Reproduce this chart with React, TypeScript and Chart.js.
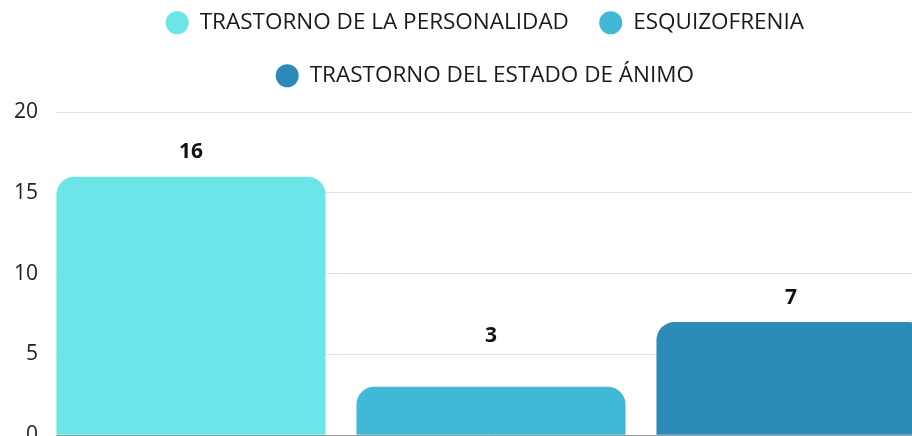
import React, { useEffect, useRef } from "react";
import { Chart, registerables } from "chart.js";

Chart.register(...registerables);

const categories = [""];
const seriesNames = [
  "TRASTORNO DE LA PERSONALIDAD",
  "ESQUIZOFRENIA",
  "TRASTORNO DEL ESTADO DE ÁNIMO",
];
const seriesValues = [16, 3, 7];
const seriesColors = ["#6CE5E8", "#41B8D5", "#2D8BBA"];
const labelOffsets = [25, 51, 24];
const yTicks = [0, 5, 10, 15, 20];

const FONT = "'Open Sans', 'Noto Sans', sans-serif";

const valueLabels = {
  id: "valueLabels",
  afterDatasetsDraw(chart: any) {
    const ctx = chart.ctx;
    ctx.save();
    ctx.font = `bold 21px ${FONT}`;
    ctx.fillStyle = "#111111";
    ctx.textAlign = "center";
    ctx.textBaseline = "middle";
    chart.data.datasets.forEach((ds: any, i: number) => {
      const meta = chart.getDatasetMeta(i);
      const el = meta.data[0];
      if (!el) return;
      ctx.fillText(String(ds.data[0]), el.x, el.y - (ds.labelOffset || 25));
    });
    ctx.restore();
  },
};

export default function App() {
  const ref = useRef<HTMLCanvasElement>(null);
  useEffect(() => {
    if (!ref.current) return;
    const chart = new Chart(ref.current, {
      type: "bar",
      data: {
        labels: categories,
        datasets: seriesNames.map((name, i) => ({
          label: name,
          data: [seriesValues[i]],
          backgroundColor: seriesColors[i],
          borderWidth: 0,
          borderRadius: 18,
          borderSkipped: "start",
          categoryPercentage: 1.0345,
          barPercentage: 0.897,
          labelOffset: labelOffsets[i],
        })) as any,
      },
      options: {
        animation: false,
        responsive: false,
        devicePixelRatio: 1,
        layout: { padding: 0 },
        plugins: {
          tooltip: { enabled: false },
          legend: {
            position: "top",
            align: "center",
            labels: {
              usePointStyle: true,
              pointStyle: "circle",
              boxHeight: 16.3,
              padding: 30.5,
              color: "#1a1a1a",
              font: { family: FONT, size: 22.5 },
            },
          },
          title: {
            display: true,
            text: "",
            position: "top",
            weight: 500,
            padding: 0,
            font: { size: 15, lineHeight: 1 },
          },
        },
        scales: {
          x: {
            grid: { display: false, drawTicks: false },
            border: { display: true, color: "#9a9a9a", width: 1 },
            ticks: { display: false },
          },
          y: {
            min: 0,
            max: 20,
            afterBuildTicks: (s: any) => {
              s.ticks = yTicks.map((v) => ({ value: v }));
            },
            grid: { color: "#e2e2e2", drawTicks: false },
            border: { display: false },
            ticks: {
              padding: 18,
              color: "#222222",
              font: { family: FONT, size: 21, lineHeight: 1.6 },
            },
          },
          y2: {
            position: "right",
            display: true,
            grid: { display: false, drawTicks: false },
            border: { display: false },
            ticks: { display: false },
            afterFit: (s: any) => {
              s.width = 48;
            },
          },
        },
      },
      plugins: [valueLabels],
    });
    return () => chart.destroy();
  }, []);
  return (
    <div
      style={{
        position: "fixed",
        left: 0,
        top: 0,
        width: 912,
        height: 436,
        overflow: "hidden",
        background: "#ffffff",
      }}
    >
      <canvas
        ref={ref}
        width={978}
        height={489}
        style={{ position: "absolute", left: -4, top: -19, width: 978, height: 489 }}
      />
    </div>
  );
}
